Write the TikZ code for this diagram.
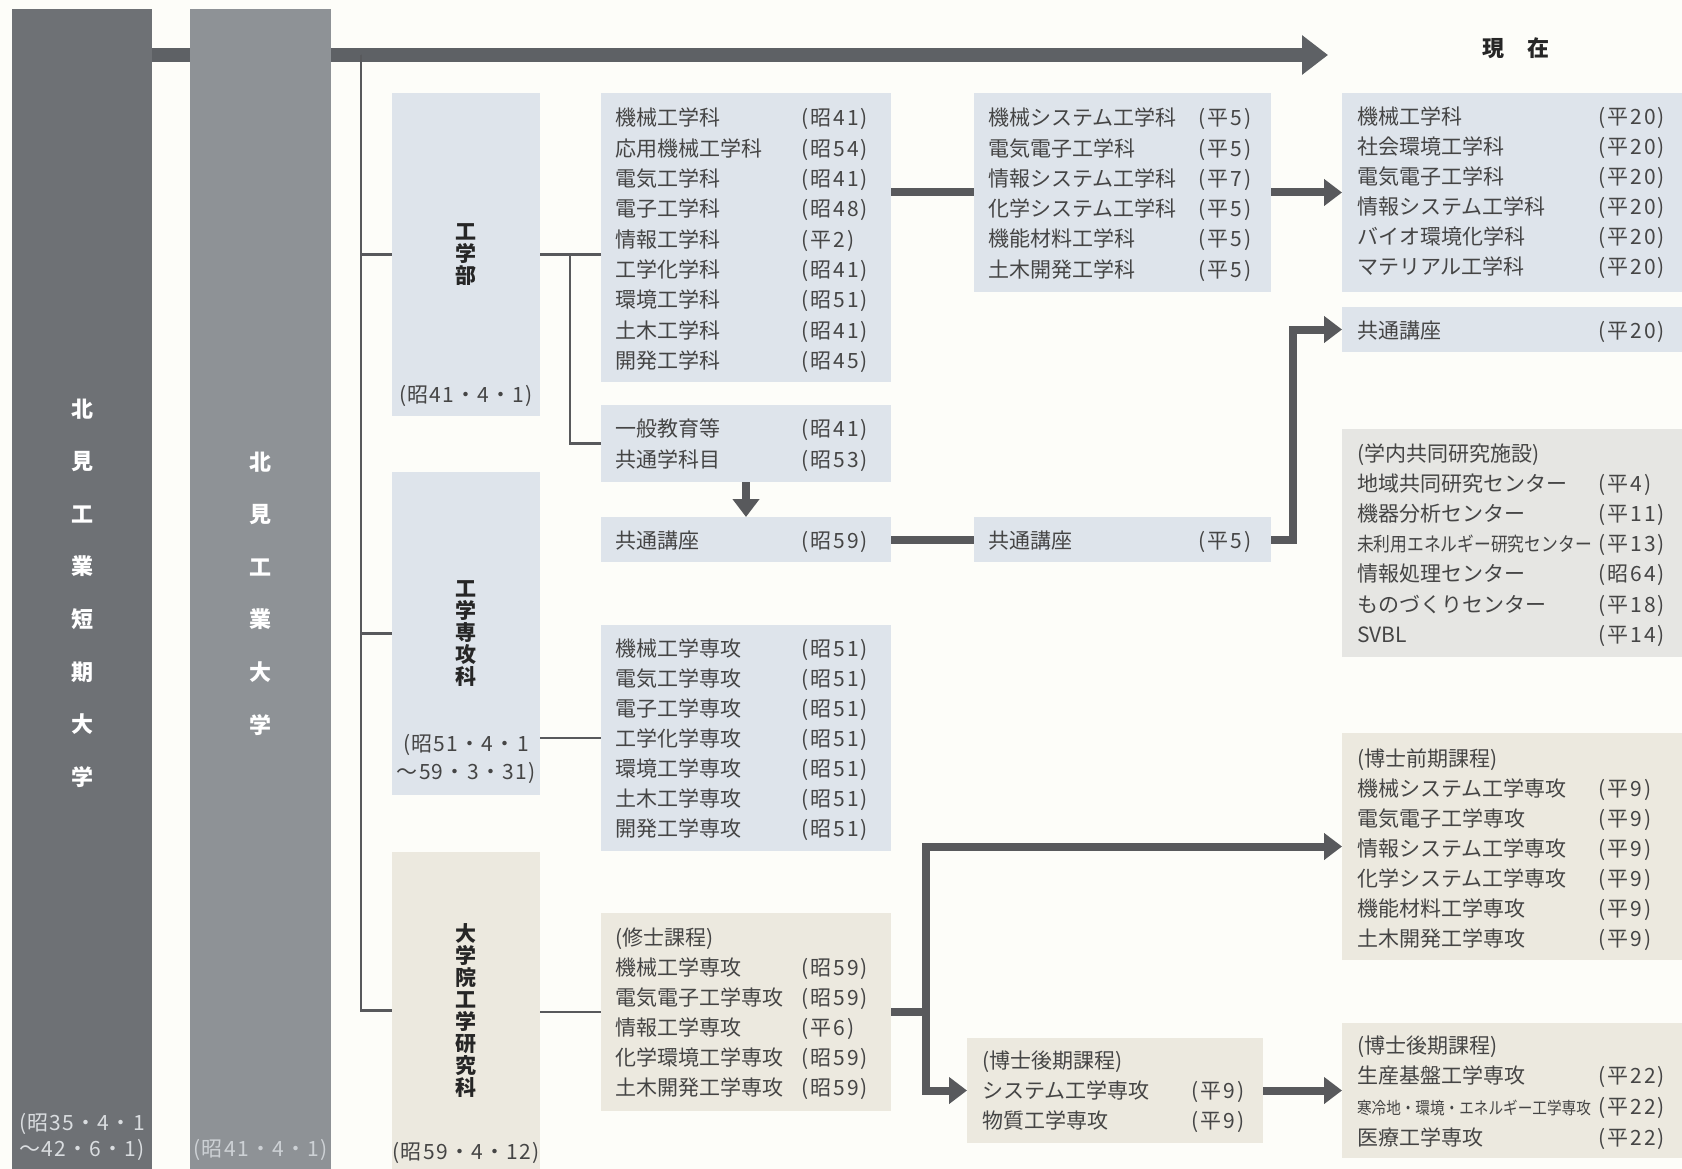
\documentclass[tikz,border=0pt]{standalone}
\usepackage{fontspec}
\setmainfont{Noto Sans CJK JP}
\newfontfamily\narrowjp[FakeStretch=0.86]{Noto Sans CJK JP}
\newfontfamily\datejp[LetterSpace=10]{Noto Sans CJK JP}
\newfontfamily\datejpb[LetterSpace=6]{Noto Sans CJK JP}
\usetikzlibrary{arrows.meta,calc}
\definecolor{bgc}{HTML}{FDFDF9}
\definecolor{bar1c}{HTML}{6E7175}
\definecolor{bar2c}{HTML}{8E9296}
\definecolor{blueg}{HTML}{DEE4EB}
\definecolor{greyb}{HTML}{E6E6E3}
\definecolor{beige}{HTML}{ECE9DF}
\definecolor{linec}{HTML}{58595C}
\definecolor{mainc}{HTML}{5E6165}
\definecolor{txtc}{HTML}{454545}
\definecolor{lblc}{HTML}{262626}
\definecolor{bard1}{HTML}{DADDE0}
\definecolor{bard2}{HTML}{CDD1D5}
\pgfdeclarelayer{bg}
\pgfsetlayers{bg,main}
\newcommand\narrowA{\narrowjp\fontsize{19.5}{22}\selectfont}
\newcommand\narrowB{\narrowjp\fontsize{17}{20}\selectfont}
\tikzset{
  panel/.style={draw=none, inner sep=0pt, outer sep=0pt, anchor=north west},
  rowtxt/.style={anchor=west, inner sep=0pt, outer sep=0pt, text height=16pt, text depth=0pt, font=\fontsize{21}{24}\selectfont, text=txtc},
  rowdate/.style={rowtxt, font=\datejp\fontsize{21}{24}\selectfont},
  vlabel/.style={align=center, font=\bfseries\fontsize{21}{22}\selectfont, text=lblc},
  datelbl/.style={inner sep=0pt, align=center, font=\datejpb\fontsize{21}{28}\selectfont, text=txtc},
  barlbl/.style={inner sep=0pt, align=center, font=\bfseries\fontsize{22}{52.6}\selectfont, text=white},
  thinline/.style={line width=2.5pt, draw=linec},
  thickline/.style={line width=8pt, draw=linec},
  tip/.style={-{Triangle[length=18pt,width=26pt]}},
}
\newcommand\listrows[6]{%
  \foreach \tx/\dt [count=\i] in {#6}{%
    \node[rowtxt] (#1-t\i) at (#2,{#4+(\i-1)*#5}) {\tx};
    \node[rowdate] (#1-d\i) at (#3,{#4+(\i-1)*#5}) {\dt};
  }}
\begin{document}
\begin{tikzpicture}[x=1pt,y=-1pt]
\useasboundingbox (0,0) rectangle (1682,1169);

% bars
\node[panel, fill=bar1c, minimum width=140pt, minimum height=1160pt] (bar1) at (12,9) {};
\node[panel, fill=bar2c, minimum width=141pt, minimum height=1160pt] (bar2) at (190,9) {};
\node[barlbl] (bar1-l) at (82,593) {北\\見\\工\\業\\短\\期\\大\\学};
\node[barlbl] (bar2-l) at (260.5,593.5) {北\\見\\工\\業\\大\\学};
\node[datelbl, text=bard1, font=\datejpb\fontsize{21}{26}\selectfont] (bar1-d) at (82,1137) {(昭35・4・1\\〜42・6・1)};
\node[datelbl, text=bard2] (bar2-d) at (260.5,1150) {(昭41・4・1)};

% timeline coordinates
\coordinate (tl) at (152,55);
\coordinate (now) at (1328,55);
\coordinate (spine) at (361,55);
\coordinate (j1) at (570,0);
\node[font=\bfseries\fontsize{22}{22}\selectfont, text=lblc] (now-l) at (1516,48) {現\hspace{23pt}在};

% organisation boxes
\node[panel, fill=blueg, minimum width=148pt, minimum height=323pt, vlabel] (gakubu) at (392,93) {工\\学\\部};
\node[panel, fill=blueg, minimum width=148pt, minimum height=323pt, vlabel] (senkouka) at (392,472) {工\\学\\専\\攻\\科};
\node[panel, fill=beige, minimum width=148pt, minimum height=317pt, vlabel] (daigakuin) at (392,852) {大\\学\\院\\工\\学\\研\\究\\科};
\node[datelbl] (gakubu-d) at (466,396) {(昭41・4・1)};
\node[datelbl] (senkouka-d) at (466,759) {(昭51・4・1\\〜59・3・31)};
\node[datelbl] (daigakuin-d) at (466,1153) {(昭59・4・12)};

% list panels
\node[panel, fill=blueg, minimum width=290pt, minimum height=289pt] (gakka) at (601,93) {};
\node[panel, fill=blueg, minimum width=290pt, minimum height=77pt] (ippan) at (601,405) {};
\node[panel, fill=blueg, minimum width=290pt, minimum height=45pt] (kyo59) at (601,517) {};
\node[panel, fill=blueg, minimum width=290pt, minimum height=226pt] (senkou) at (601,625) {};
\node[panel, fill=beige, minimum width=290pt, minimum height=198pt] (shushi) at (601,913) {};
\node[panel, fill=blueg, minimum width=297pt, minimum height=199pt] (kikai) at (974,93) {};
\node[panel, fill=blueg, minimum width=297pt, minimum height=45pt] (kyo5) at (974,517) {};
\node[panel, fill=beige, minimum width=296pt, minimum height=105pt] (kouki1) at (967,1038) {};
\node[panel, fill=blueg, minimum width=340pt, minimum height=199pt] (genzai) at (1342,93) {};
\node[panel, fill=blueg, minimum width=340pt, minimum height=45pt] (kyo20) at (1342,307) {};
\node[panel, fill=greyb, minimum width=340pt, minimum height=228pt] (gakunai) at (1342,429) {};
\node[panel, fill=beige, minimum width=340pt, minimum height=227pt] (zenki) at (1342,733) {};
\node[panel, fill=beige, minimum width=340pt, minimum height=135pt] (kouki2) at (1342,1023) {};

% rows
\listrows{gakka}{615}{801}{118}{30.3}{機械工学科/(昭41), 応用機械工学科/(昭54), 電気工学科/(昭41), 電子工学科/(昭48), 情報工学科/(平2), 工学化学科/(昭41), 環境工学科/(昭51), 土木工学科/(昭41), 開発工学科/(昭45)}
\listrows{ippan}{615}{801}{428}{31}{一般教育等/(昭41), 共通学科目/(昭53)}
\listrows{kyo59}{615}{801}{540}{30}{共通講座/(昭59)}
\listrows{senkou}{615}{801}{648}{30}{機械工学専攻/(昭51), 電気工学専攻/(昭51), 電子工学専攻/(昭51), 工学化学専攻/(昭51), 環境工学専攻/(昭51), 土木工学専攻/(昭51), 開発工学専攻/(昭51)}
\listrows{shushi}{615}{801}{937}{30}{(修士課程)/{}, 機械工学専攻/(昭59), 電気電子工学専攻/(昭59), 情報工学専攻/(平6), 化学環境工学専攻/(昭59), 土木開発工学専攻/(昭59)}
\listrows{kikai}{988}{1198}{118}{30.2}{機械システム工学科/(平5), 電気電子工学科/(平5), 情報システム工学科/(平7), 化学システム工学科/(平5), 機能材料工学科/(平5), 土木開発工学科/(平5)}
\listrows{kyo5}{988}{1198}{540}{30}{共通講座/(平5)}
\listrows{kouki1}{982}{1191}{1060}{30}{(博士後期課程)/{}, システム工学専攻/(平9), 物質工学専攻/(平9)}
\listrows{genzai}{1357}{1598}{117}{30}{機械工学科/(平20), 社会環境工学科/(平20), 電気電子工学科/(平20), 情報システム工学科/(平20), バイオ環境化学科/(平20), マテリアル工学科/(平20)}
\listrows{kyo20}{1357}{1598}{330}{30}{共通講座/(平20)}
\listrows{gakunai}{1357}{1598}{453}{30.2}{(学内共同研究施設)/{}, 地域共同研究センター/(平4), 機器分析センター/(平11), {\narrowA 未利用エネルギー研究センター}/(平13), 情報処理センター/(昭64), ものづくりセンター/(平18), SVBL/(平14)}
\listrows{zenki}{1357}{1598}{758}{30}{(博士前期課程)/{}, 機械システム工学専攻/(平9), 電気電子工学専攻/(平9), 情報システム工学専攻/(平9), 化学システム工学専攻/(平9), 機能材料工学専攻/(平9), 土木開発工学専攻/(平9)}
\listrows{kouki2}{1357}{1598}{1045}{30.7}{(博士後期課程)/{}, 生産基盤工学専攻/(平22), {\narrowB 寒冷地・環境・エネルギー工学専攻}/(平22), 医療工学専攻/(平22)}

% connectors
\begin{pgfonlayer}{bg}
\fill[bgc] (0,0) rectangle (1682,1169);
\draw[line width=14pt, draw=mainc, -{Triangle[length=26pt,width=38pt]}] (tl) -- (now);
\draw[thinline] (spine) |- (gakubu.west);
\draw[thinline] (spine) |- (senkouka.west);
\draw[thinline] (spine) |- (daigakuin.west);
\draw[thinline] (gakubu.east) -- (gakubu.east -| gakka.west);
\draw[thinline] (gakubu.east -| j1) |- (ippan.west);
\draw[thinline] (senkou.west -| senkouka.east) -- (senkou.west);
\draw[thinline] (shushi.west -| daigakuin.east) -- (shushi.west);
\draw[thickline] (kikai.west -| gakka.east) -- (kikai.west);
\draw[thickline, tip] (kikai.east) -- (genzai.west);
\draw[thickline, tip] (ippan.south) -- (kyo59.north);
\draw[thickline] (kyo59.east) -- (kyo5.west);
\draw[thickline, tip] (kyo5.east) -- ++(22,0) |- (kyo20.west);
\draw[thickline] (shushi.east) -- ++(35,0) coordinate (j2);
\draw[thickline, tip] (j2) |- (zenki.west);
\draw[thickline, tip] (j2) |- (kouki1.west);
\draw[thickline, tip] (kouki1.east) -- (kouki2.west);
\end{pgfonlayer}
\end{tikzpicture}
\end{document}
